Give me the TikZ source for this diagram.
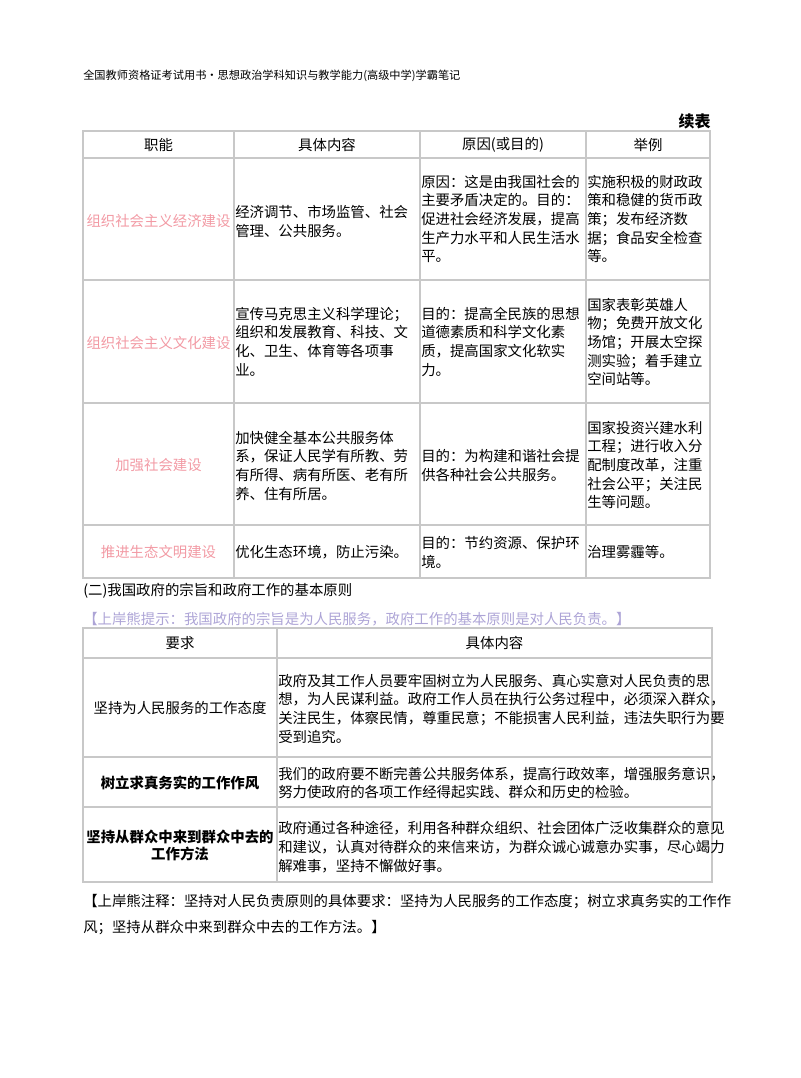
\documentclass[tikz,border=0pt]{standalone}
\usepackage{fontspec}
\newfontfamily\cjk{Noto Sans CJK SC}
\usetikzlibrary{positioning}
\definecolor{gridgray}{HTML}{C8C8C8}
\definecolor{titlepink}{HTML}{F29AA4}
\definecolor{hintpurple}{HTML}{ADA4D6}
\begin{document}
\begin{tikzpicture}[x=0.75pt,y=-0.75pt]

    \tikzstyle{txt}=[inner sep=0pt,anchor=west,align=left,font=\cjk\fontsize{10.8}{14}\selectfont]
    \tikzstyle{head}=[inner sep=0pt,font=\cjk\fontsize{10.8}{14}\selectfont]
    \tikzstyle{func}=[head,text=titlepink]
    \tikzstyle{grid}=[draw=gridgray,line width=0.8pt]
    \useasboundingbox (0,0) rectangle (800,1078);

    % page header
    \node [txt,font=\cjk\fontsize{8.4}{10}\selectfont] (top) at (83,76) {全国教师资格证考试用书•思想政治学科知识与教学能力(高级中学)学霸笔记};
    \node [inner sep=0pt,anchor=east,font=\cjk\bfseries\fontsize{12}{14}\selectfont] (cont) at (711,121) {续表};

    % first table
    \draw [grid] (83,131) rectangle (710,578);
    \foreach \y in {158,280,403,525}
        \draw [grid] (83,\y) -- (710,\y);
    \foreach \x in {234,420,586}
        \draw [grid] (\x,131) -- (\x,578);

    \node [head] (h1) at (158.5,145) {职能};
    \node [head] (h2) at (327,145) {具体内容};
    \node [head] (h3) at (503,145) {原因(或目的)};
    \node [head] (h4) at (648,145) {举例};

    \node [func] (f1) at (158.5,221) {组织社会主义经济建设};
    \node [txt] (c1) at (235,221.5) {经济调节、市场监管、社会\\管理、公共服务。};
    \node [txt] (r1) at (421,219) {原因：这是由我国社会的\\主要矛盾决定的。目的：\\促进社会经济发展，提高\\生产力水平和人民生活水\\平。};
    \node [txt] (e1) at (587,219) {实施积极的财政政\\策和稳健的货币政\\策；发布经济数\\据；食品安全检查\\等。};

    \node [func] (f2) at (158.5,343) {组织社会主义文化建设};
    \node [txt] (c2) at (235,341.5) {宣传马克思主义科学理论；\\组织和发展教育、科技、文\\化、卫生、体育等各项事\\业。};
    \node [txt] (r2) at (421,341.5) {目的：提高全民族的思想\\道德素质和科学文化素\\质，提高国家文化软实\\力。};
    \node [txt] (e2) at (587,342) {国家表彰英雄人\\物；免费开放文化\\场馆；开展太空探\\测实验；着手建立\\空间站等。};

    \node [func] (f3) at (158.5,465) {加强社会建设};
    \node [txt] (c3) at (235,465.5) {加快健全基本公共服务体\\系，保证人民学有所教、劳\\有所得、病有所医、老有所\\养、住有所居。};
    \node [txt] (r3) at (421,465.5) {目的：为构建和谐社会提\\供各种社会公共服务。};
    \node [txt] (e3) at (587,465) {国家投资兴建水利\\工程；进行收入分\\配制度改革，注重\\社会公平；关注民\\生等问题。};

    \node [func] (f4) at (158.5,552) {推进生态文明建设};
    \node [txt] (c4) at (235,552) {优化生态环境，防止污染。};
    \node [txt] (r4) at (421,552.5) {目的：节约资源、保护环\\境。};
    \node [txt] (e4) at (587,552) {治理雾霾等。};

    % section title and hint
    \node [txt] (sec) at (83,591) {(二)我国政府的宗旨和政府工作的基本原则};
    \node [txt,text=hintpurple] (hint) at (83,619) {【上岸熊提示：我国政府的宗旨是为人民服务，政府工作的基本原则是对人民负责。】};

    % second table
    \draw [grid] (83,628) rectangle (712,882);
    \foreach \y in {658,757,807}
        \draw [grid] (83,\y) -- (712,\y);
    \draw [grid] (277,628) -- (277,882);

    \node [head] (g1) at (180,643) {要求};
    \node [head] (g2) at (494.5,643) {具体内容};

    \node [head] (q1) at (180,708) {坚持为人民服务的工作态度};
    \node [txt] (d1) at (278,708.5) {政府及其工作人员要牢固树立为人民服务、真心实意对人民负责的思\\想，为人民谋利益。政府工作人员在执行公务过程中，必须深入群众，\\关注民生，体察民情，尊重民意；不能损害人民利益，违法失职行为要\\受到追究。};
    \node [head,font=\cjk\bfseries\fontsize{10.8}{14}\selectfont] (q2) at (180,783) {树立求真务实的工作作风};
    \node [txt] (d2) at (278,783) {我们的政府要不断完善公共服务体系，提高行政效率，增强服务意识，\\努力使政府的各项工作经得起实践、群众和历史的检验。};
    \node [head,align=center,font=\cjk\bfseries\fontsize{10.8}{13}\selectfont] (q3) at (180,845.5) {坚持从群众中来到群众中去的\\工作方法};
    \node [txt] (d3) at (278,847) {政府通过各种途径，利用各种群众组织、社会团体广泛收集群众的意见\\和建议，认真对待群众的来信来访，为群众诚心诚意办实事，尽心竭力\\解难事，坚持不懈做好事。};

    % closing note
    \node [txt] (note1) at (83,902) {【上岸熊注释：坚持对人民负责原则的具体要求：坚持为人民服务的工作态度；树立求真务实的工作作};
    \node [txt] (note2) at (83,928) {风；坚持从群众中来到群众中去的工作方法。】};
\end{tikzpicture}
\end{document}
